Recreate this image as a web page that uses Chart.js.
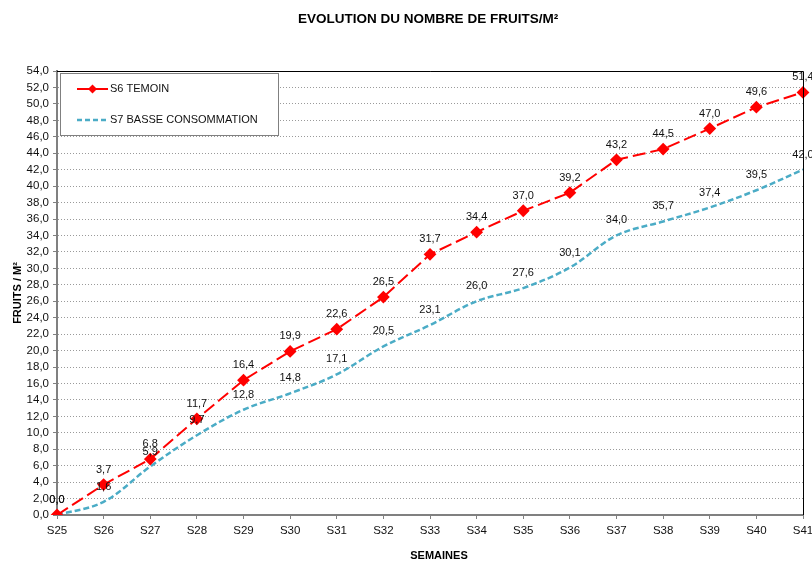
<!DOCTYPE html>
<html>
<head>
<meta charset="utf-8">
<script src="https://cdn.jsdelivr.net/npm/chart.js@4/dist/chart.umd.min.js"></script>
<style>
html,body{margin:0;padding:0;background:#fff;}
#wrap{width:812px;height:561px;position:relative;}
</style>
</head>
<body>
<div id="wrap"><canvas id="c" width="812" height="561"></canvas></div>
<script>
const weeks = ["S25","S26","S27","S28","S29","S30","S31","S32","S33","S34","S35","S36","S37","S38","S39","S40","S41"];
const s6Temoin = [0.0,3.7,6.8,11.7,16.4,19.9,22.6,26.5,31.7,34.4,37.0,39.2,43.2,44.5,47.0,49.6,51.4];
const s7Basse = [0.0,1.6,5.9,9.7,12.8,14.8,17.1,20.5,23.1,26.0,27.6,30.1,34.0,35.7,37.4,39.5,42.0];
const seriesNames = ["S6 TEMOIN","S7 BASSE CONSOMMATION"];
const chartTitle = "EVOLUTION DU NOMBRE DE FRUITS/M²";
const yTitle = "FRUITS / M²";
const xTitle = "SEMAINES";

const FONT = "'Liberation Sans', Arial, sans-serif";
const fmt = v => v.toFixed(1).replace('.', ',');

const extras = {
  id: 'extras',
  afterDatasetsDraw(chart) {
    const ctx = chart.ctx;
    const a = chart.chartArea;
    ctx.save();
    // plot border top/right
    ctx.strokeStyle = '#000';
    ctx.lineWidth = 1;
    ctx.beginPath();
    ctx.moveTo(a.left, a.top + 0.5);
    ctx.lineTo(a.right + 0.5, a.top + 0.5);
    ctx.lineTo(a.right + 0.5, a.bottom);
    ctx.stroke();
    // data labels
    ctx.font = "11px " + FONT;
    ctx.fillStyle = '#111';
    ctx.textAlign = 'center';
    ctx.textBaseline = 'middle';
    chart.data.datasets.forEach((ds, i) => {
      const meta = chart.getDatasetMeta(i);
      meta.data.forEach((pt, j) => {
        ctx.fillText(fmt(ds.data[j]), pt.x, pt.y - 15);
      });
    });
    // legend
    const lx = 60, ly = 73, lw = 218, lh = 62;
    ctx.fillStyle = '#fff';
    ctx.fillRect(lx, ly, lw, lh);
    ctx.strokeStyle = '#808080';
    ctx.lineWidth = 1;
    ctx.strokeRect(lx + 0.5, ly + 0.5, lw, lh);
    const rows = [89, 120];
    chart.data.datasets.forEach((ds, i) => {
      const y = rows[i];
      ctx.strokeStyle = ds.borderColor;
      ctx.lineWidth = ds.borderWidth;
      ctx.setLineDash(i === 0 ? [] : [5, 3]);
      ctx.beginPath();
      ctx.moveTo(77, y);
      ctx.lineTo(108, y);
      ctx.stroke();
      ctx.setLineDash([]);
      if (i === 0) {
        ctx.fillStyle = ds.pointBackgroundColor;
        ctx.beginPath();
        ctx.moveTo(92.5, y - 4.5);
        ctx.lineTo(97, y);
        ctx.lineTo(92.5, y + 4.5);
        ctx.lineTo(88, y);
        ctx.closePath();
        ctx.fill();
      }
      ctx.fillStyle = '#111';
      ctx.textAlign = 'left';
      ctx.font = "11px " + FONT;
      ctx.fillText(ds.label, 110, y);
    });
    // titles
    ctx.fillStyle = '#000';
    ctx.textAlign = 'center';
    ctx.font = "bold 13.5px " + FONT;
    ctx.fillText(chartTitle, 428, 19);
    ctx.font = "bold 11px " + FONT;
    ctx.fillText(xTitle, 439, 556);
    ctx.save();
    ctx.translate(18, 293);
    ctx.rotate(-Math.PI / 2);
    ctx.fillText(yTitle, 0, 0);
    ctx.restore();
    ctx.restore();
  }
};

new Chart(document.getElementById('c'), {
  type: 'line',
  data: {
    labels: weeks,
    datasets: [
      {
        label: seriesNames[0],
        data: s6Temoin,
        borderColor: '#ff0000',
        backgroundColor: '#ff0000',
        pointBackgroundColor: '#ff0000',
        pointBorderColor: '#ff0000',
        pointStyle: 'rectRot',
        pointRadius: 5,
        borderWidth: 2,
        borderDash: [13, 5],
        tension: 0,
        fill: false
      },
      {
        label: seriesNames[1],
        data: s7Basse,
        borderColor: '#4bacc6',
        backgroundColor: '#4bacc6',
        pointRadius: 0,
        borderWidth: 2.5,
        borderDash: [6, 3],
        tension: 0.35,
        fill: false
      }
    ]
  },
  plugins: [extras],
  options: {
    responsive: false,
    animation: false,
    devicePixelRatio: 1,
    layout: { padding: { top: 71, left: 0, right: 9, bottom: 0 } },
    plugins: {
      legend: { display: false },
      title: { display: false },
      tooltip: { enabled: false }
    },
    scales: {
      x: {
        offset: false,
        grid: { display: true, drawOnChartArea: false, drawTicks: true, tickLength: 4, color: '#808080', tickColor: '#808080' },
        border: { display: true, color: '#808080', width: 2 },
        ticks: { font: { size: 11.5, family: FONT }, color: '#111', padding: 5, maxRotation: 0, autoSkip: false },
        afterFit(s) { s.height = 46; s.paddingLeft = 0; s.paddingRight = 0; }
      },
      y: {
        min: 0, max: 54,
        grid: { color: '#9a9a9a', lineWidth: 1, tickLength: 4, tickColor: '#808080', tickBorderDash: [] , drawTicks: true},
        border: { display: true, color: '#808080', width: 2, dash: [1, 2] },
        ticks: { stepSize: 2, autoSkip: false, font: { size: 11.5, family: FONT }, color: '#111', padding: 4, callback: v => fmt(v) },
        afterFit(s) { s.width = 57; s.paddingTop = 0; s.paddingBottom = 0; }
      }
    }
  }
});
</script>
</body>
</html>
